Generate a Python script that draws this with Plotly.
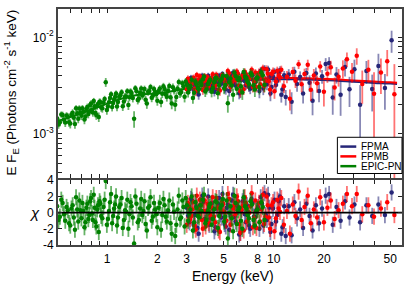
import numpy as np
import plotly.graph_objects as go

# ---------------- data (flux in units of 1e-3 photons cm^-2 s^-1 keV) ----------------
pn_energy = [0.50,0.52,0.54,0.56,0.58,0.60,0.62,0.64,0.66,0.68,0.70,0.72,0.74,0.76,0.78,0.80,0.82,0.84,0.86,0.88,
             0.90,0.92,0.95,0.98,1.01,1.04,1.07,1.10,1.13,1.16,1.20,1.24,1.28,1.32,1.36,1.40,1.45,1.50,1.55,1.60,
             1.65,1.70,1.76,1.82,1.88,1.94,2.00,2.07,2.14,2.21,2.28,2.36,2.44,2.52,2.60,2.69,2.78,2.87,2.96,3.06,
             3.16,3.27,3.38,3.50,3.62,3.75,3.88,4.02,4.16,4.31,4.46,4.62,4.78,4.95,5.12,5.30,5.50,5.70,5.90,6.10,
             6.35,6.60,6.85,7.10,7.40,7.70,8.00,8.40,8.80]
pn_flux = [1.45,1.32,1.57,1.31,1.51,1.28,1.66,1.27,1.64,1.83,
           1.54,1.70,1.52,1.90,1.70,2.07,1.67,1.94,1.57,2.04,
           2.16,1.88,2.12,3.43,1.92,2.36,1.90,2.29,2.62,2.14,
           2.51,1.94,2.44,2.76,2.40,2.65,1.44,2.77,2.33,2.95,
           2.62,2.26,2.73,3.06,2.49,2.72,2.20,2.95,2.60,2.92,
           2.42,3.13,2.07,2.83,2.41,3.45,2.72,3.12,3.49,2.68,
           3.13,2.36,3.49,2.97,3.43,3.69,2.75,3.29,3.64,2.99,
           3.80,2.64,3.57,4.00,3.21,2.08,3.75,2.55,3.97,3.63,
           3.11,4.37,3.79,3.28,4.07,2.88,3.84,4.32,3.22]
pn_err = [0.12,0.12,0.13,0.13,0.13,0.14,0.14,0.14,0.14,0.15,
          0.15,0.15,0.15,0.16,0.16,0.16,0.16,0.17,0.17,0.17,
          0.17,0.18,0.18,0.36,0.19,0.19,0.19,0.20,0.20,0.20,
          0.21,0.21,0.21,0.22,0.22,0.22,0.28,0.23,0.23,0.23,
          0.23,0.23,0.24,0.24,0.24,0.24,0.24,0.25,0.25,0.25,
          0.26,0.26,0.27,0.27,0.28,0.28,0.29,0.29,0.30,0.30,
          0.31,0.31,0.32,0.32,0.33,0.33,0.34,0.34,0.35,0.35,
          0.36,0.36,0.37,0.37,0.38,0.42,0.39,0.40,0.40,0.41,
          0.42,0.43,0.44,0.45,0.46,0.47,0.48,0.50,0.52]
pn_chi = [0.8,-0.5,1.2,-1.0,0.3,-1.6,0.9,-2.1,0.4,1.5,
          -0.7,0.2,-1.2,1.1,-0.3,1.8,-0.9,0.6,-1.7,0.9,
          1.4,-0.4,0.7,3.9,-0.8,1.3,-1.3,0.5,2.0,-0.6,
          1.0,-1.9,0.3,1.6,-0.2,0.8,-3.8,1.1,-0.9,1.7,
          0.2,-1.4,0.6,1.9,-0.5,0.4,-1.8,1.2,-0.3,0.9,
          -1.1,1.5,-2.6,0.1,-1.5,2.1,-0.6,0.7,1.8,-1.0,
          0.4,-2.2,1.3,-0.4,0.9,1.6,-1.3,0.2,1.1,-0.8,
          1.4,-1.9,0.6,1.7,-0.5,-3.2,0.8,-2.3,1.2,0.3,
          -1.0,1.9,0.5,-0.7,1.0,-1.6,0.4,1.3,-0.9]

# second (interleaved) set of EPIC-PN bins
pn_energy_b = [0.51,0.53,0.55,0.57,0.59,0.61,0.63,0.65,0.67,0.69,0.71,0.73,0.75,0.77,0.79,0.81,0.83,0.85,0.87,0.89,
               0.91,0.935,0.965,0.995,1.025,1.055,1.085,1.115,1.145,1.18,1.22,1.26,1.30,1.34,1.38,1.425,1.475,1.525,
               1.575,1.625,1.675,1.73,1.79,1.85,1.91,1.97,2.035,2.105,2.175,2.245,2.32,2.40,2.48,2.56,2.645,2.735,
               2.825,2.915,3.01,3.11,3.215,3.325,3.44,3.56,3.685,3.815,3.95,4.09,4.235,4.385,4.54,4.70,4.865,5.035,
               5.21,5.40,5.60,5.80,6.00,6.225,6.475,6.725,6.975,7.25,7.55,7.85,8.20,8.60]
pn_flux_b = [1.25,1.59,1.40,1.55,1.32,1.59,1.47,1.84,1.44,1.67,
             1.84,1.41,1.81,1.61,1.99,1.78,2.19,1.65,1.95,1.50,
             2.13,1.84,2.30,1.77,2.13,2.57,2.09,2.41,1.92,2.43,
             2.70,2.17,2.42,1.99,2.75,2.35,2.97,2.25,2.67,2.50,
             2.92,2.06,2.79,2.37,2.91,2.57,2.79,2.14,3.12,2.57,
             2.80,2.40,3.05,2.00,2.95,2.64,3.34,2.42,3.23,2.96,
             3.64,2.67,3.27,2.91,3.21,3.92,2.89,3.48,2.74,3.42,
             3.78,3.18,3.69,2.96,3.98,3.43,3.18,4.32,2.93,3.77,
             2.68,3.91,3.45,4.24,3.20,3.74,3.06,4.04]
pn_err_b = [0.12,0.12,0.13,0.13,0.13,0.14,0.14,0.14,0.15,0.15,
            0.15,0.15,0.16,0.16,0.16,0.16,0.17,0.17,0.17,0.17,
            0.18,0.18,0.18,0.19,0.19,0.19,0.20,0.20,0.20,0.21,
            0.21,0.21,0.22,0.22,0.22,0.23,0.23,0.23,0.23,0.23,
            0.24,0.24,0.24,0.24,0.24,0.25,0.25,0.25,0.26,0.26,
            0.26,0.27,0.27,0.28,0.28,0.29,0.29,0.30,0.30,0.31,
            0.31,0.32,0.32,0.33,0.33,0.34,0.34,0.35,0.35,0.36,
            0.36,0.37,0.37,0.38,0.38,0.39,0.39,0.40,0.41,0.42,
            0.43,0.44,0.45,0.46,0.47,0.48,0.50,0.52]
pn_chi_b = [-0.9,1.6,-0.2,0.7,-1.3,0.5,-0.6,1.9,-1.1,0.3,
            1.2,-1.8,0.6,-0.8,1.4,-0.1,2.2,-1.2,0.4,-2.4,
            1.1,-0.7,1.6,-1.5,0.2,2.3,-0.4,1.0,-1.6,0.7,
            1.8,-0.9,0.1,-2.0,1.3,-0.6,2.0,-1.2,0.5,-0.3,
            1.4,-2.2,0.8,-1.0,1.2,-0.2,0.6,-2.1,1.7,-0.5,
            0.3,-1.3,1.0,-2.9,0.4,-0.8,1.5,-1.7,0.9,-0.1,
            2.0,-1.2,0.6,-0.6,0.2,2.2,-0.9,0.7,-1.5,0.4,
            1.3,-0.4,0.9,-1.1,1.5,0.0,-0.7,2.1,-1.4,0.6,
            -2.0,0.8,-0.3,1.4,-0.9,0.2,-1.2,0.7]

fpma_energy = [3.0,3.12,3.24,3.36,3.48,3.6,3.72,3.85,3.98,4.1,
               4.25,4.4,4.55,4.7,4.85,5.0,5.15,5.3,5.5,5.7,
               5.9,6.1,6.3,6.5,6.7,6.9,7.1,7.35,7.6,7.9,
               8.2,8.5,8.8,9.1,9.4,9.7,10.1,10.5,10.9,11.3,
               11.8,12.3,12.8,13.3,13.8,14.4,15.0,15.7,16.4,17.1,
               17.9,18.7,19.5,20.5,21.5,22.6,23.8,25.2,26.8,28.5,
               30.5,33,36,39,42.5,46.5,51]
fpma_flux = [3.43,2.91,3.75,3.23,2.76,3.62,4.00,3.14,3.49,2.95,
             3.78,2.74,3.60,4.00,3.30,3.53,2.90,3.86,3.39,4.31,
             3.17,3.82,2.70,4.08,3.53,3.93,3.06,4.23,3.46,3.79,
             2.78,4.14,4.73,3.27,3.94,3.06,4.39,3.56,4.57,2.90,
             2.41,4.13,2.15,4.41,3.29,3.89,2.62,4.27,3.39,2.21,
             4.22,2.78,3.95,5.29,5.43,2.38,4.12,2.54,4.92,2.90,
             4.67,2.00,4.49,2.91,5.06,2.98,9.31]
fpma_err = [0.30,0.30,0.30,0.30,0.30,0.30,0.30,0.30,0.30,0.30,
            0.30,0.30,0.30,0.30,0.30,0.35,0.35,0.35,0.35,0.35,
            0.35,0.35,0.35,0.35,0.35,0.35,0.35,0.35,0.35,0.35,
            0.44,0.44,0.44,0.44,0.44,0.44,0.44,0.44,0.44,0.44,
            0.44,0.55,0.55,0.55,0.55,0.55,0.55,0.55,0.65,0.65,
            0.65,0.65,0.65,0.80,0.80,0.80,0.80,1.0,1.0,1.0,
            1.2,1.2,1.2,1.2,1.7,1.2,2.4]
fpma_chi = [0.6,-1.2,1.5,-0.3,-1.9,0.9,2.1,-0.8,0.3,-1.5,
            1.2,-2.3,0.5,1.8,-0.6,0.1,-1.7,1.0,-0.4,2.2,
            -1.1,0.7,-2.5,1.4,-0.2,0.9,-1.6,1.7,-0.5,0.4,
            -2.0,1.1,2.4,-0.9,0.6,-1.4,1.6,-0.3,2.0,-1.8,
            -2.9,0.8,-2.8,1.3,-0.7,0.4,-1.9,1.1,-0.4,-2.2,
            0.9,-1.3,0.5,2.1,2.3,-1.5,0.7,-1.0,1.4,-0.6,
            1.0,-1.2,0.9,-0.4,1.0,-0.3,2.5]

fpma_energy_b = [3.06,3.18,3.30,3.42,3.54,3.66,3.78,3.91,4.04,4.17,4.32,4.47,4.62,4.77,4.92,5.07,5.22,5.4,5.6,5.8,
                 6.0,6.2,6.4,6.6,6.8,7.0,7.22,7.47,7.75,8.05,8.35,8.65,8.95,9.25,9.55,9.9,10.3,10.7,11.1,11.55]
fpma_flux_b = [3.14,3.79,2.86,3.56,2.56,3.42,3.76,3.09,4.00,3.20,
               3.58,2.90,3.78,3.41,4.17,3.00,3.71,2.78,4.06,3.37,
               3.89,2.63,3.70,4.23,3.19,3.66,2.93,4.06,3.43,3.90,
               4.50,2.96,3.54,4.64,2.62,3.91,3.21,4.31,2.55,4.04]
fpma_err_b = [0.30,0.30,0.30,0.30,0.30,0.30,0.30,0.30,0.30,0.30,
              0.30,0.30,0.30,0.30,0.30,0.35,0.35,0.35,0.35,0.35,
              0.35,0.35,0.35,0.35,0.35,0.35,0.35,0.35,0.35,0.35,
              0.44,0.44,0.44,0.44,0.44,0.44,0.44,0.44,0.44,0.44]
fpma_chi_b = [-0.4,1.7,-1.5,0.8,-2.6,0.2,1.3,-1.0,2.0,-0.7,
              0.5,-1.8,1.1,-0.2,2.3,-1.4,0.6,-2.1,1.5,-0.5,
              0.9,-2.7,0.3,1.8,-1.2,0.1,-2.0,1.2,-0.6,0.7,
              1.9,-1.6,-0.3,2.2,-2.4,0.5,-1.1,1.4,-2.6,0.8]

fpmb_energy = [3.0,3.1,3.2,3.3,3.4,3.5,3.6,3.7,3.8,3.9,
               4.0,4.15,4.3,4.45,4.6,4.75,4.9,5.05,5.2,5.4,
               5.6,5.8,6.0,6.2,6.4,6.6,6.8,7.0,7.25,7.5,
               7.75,8.0,8.3,8.6,8.9,9.2,9.5,9.9,10.3,10.7,
               11.1,11.5,12.0,12.5,13.0,13.5,14.1,14.7,15.3,16.0,
               16.7,17.4,18.2,19.0,20.0,21.0,22.0,23.2,24.5,26.0,
               27.5,29.5,31.5,34,37,40,44,48,53]
fpmb_flux = [2.90,3.61,3.27,3.81,2.77,3.60,3.95,3.19,3.54,2.96,
             3.85,3.42,4.14,3.17,3.75,2.81,4.04,3.64,3.25,4.24,
             3.42,3.99,4.42,3.17,3.85,2.90,4.16,3.66,4.04,3.07,
             4.32,3.90,3.27,4.76,3.55,4.19,2.89,4.40,3.48,4.03,
             4.63,3.11,3.91,2.32,4.37,3.56,5.27,3.27,4.17,5.19,
             2.87,4.02,3.34,5.00,2.74,4.20,4.91,3.03,3.90,4.76,
             5.94,4.40,6.45,3.29,4.62,2.61,4.32,5.67,2.58]
fpmb_err = [0.30,0.30,0.31,0.31,0.31,0.31,0.31,0.31,0.31,0.31,
            0.32,0.32,0.32,0.32,0.32,0.32,0.32,0.36,0.36,0.36,
            0.36,0.37,0.37,0.37,0.37,0.37,0.37,0.37,0.37,0.38,
            0.38,0.45,0.45,0.45,0.45,0.45,0.45,0.46,0.46,0.46,
            0.46,0.46,0.57,0.57,0.57,0.57,0.57,0.57,0.57,0.68,
            0.68,0.68,0.67,0.67,0.82,0.82,0.81,0.81,0.81,1.02,
            1.01,1.01,1.25,1.24,1.23,1.74,1.73,1.72,2.70]
fpmb_chi = [-1.5,0.8,-0.4,1.3,-2.1,0.5,1.6,-0.9,0.2,-1.7,
            1.1,-0.3,1.9,-1.2,0.6,-2.4,1.4,0.1,-1.0,1.7,
            -0.6,0.9,2.0,-1.4,0.4,-2.2,1.2,-0.2,0.8,-1.8,
            1.5,0.3,-1.1,2.2,-0.5,0.9,-2.0,1.3,-0.7,0.5,
            1.8,-1.5,0.2,-2.6,1.0,-0.4,2.6,-0.9,0.7,2.1,
            -1.3,0.4,-0.6,1.9,-1.2,0.6,1.5,-0.8,0.3,1.1,
            2.3,0.8,2.3,-0.2,0.9,-0.5,0.5,1.3,-0.3]

fpmb_energy_b = [3.05,3.15,3.25,3.35,3.45,3.55,3.65,3.75,3.85,3.95,4.07,4.22,4.37,4.52,4.67,4.82,4.97,5.12,5.3,5.5,
                 5.7,5.9,6.1,6.3,6.5,6.7,6.9,7.12,7.37,7.62,7.87,8.15,8.45,8.75,9.05,9.35,9.7,10.1,10.5,10.9]
fpmb_flux_b = [3.73,3.13,3.52,2.91,4.08,3.35,3.74,2.85,3.95,3.56,
               3.11,3.74,3.38,4.11,2.89,3.67,3.93,3.28,4.47,3.07,
               3.84,3.60,4.20,2.76,4.00,4.41,3.31,3.73,4.63,3.49,
               3.06,4.30,3.95,3.14,4.68,3.51,4.20,2.76,4.52,3.85]
fpmb_err_b = [0.31,0.31,0.31,0.31,0.31,0.31,0.31,0.31,0.31,0.31,
              0.31,0.31,0.31,0.31,0.31,0.31,0.31,0.37,0.37,0.37,
              0.37,0.37,0.37,0.37,0.37,0.37,0.37,0.37,0.37,0.37,
              0.37,0.45,0.45,0.45,0.45,0.45,0.45,0.45,0.45,0.45]
fpmb_chi_b = [1.2,-0.8,0.4,-1.6,2.1,-0.3,0.9,-2.0,1.5,0.2,
              -1.3,0.7,-0.5,1.8,-2.2,0.3,1.1,-0.9,2.3,-1.5,
              0.5,-0.2,1.4,-2.5,0.8,1.9,-1.1,0.0,2.4,-0.7,
              -1.9,1.2,0.4,-1.4,2.0,-0.6,0.9,-2.3,1.6,0.1]

pn_model_energy = [0.5,0.6,0.7,0.8,0.9,1.0,1.2,1.4,1.6,1.8,2.0,2.5,3.0,4.0,5.0,6.0,7.0,8.0,9.0]
pn_model_flux = [1.35,1.50,1.64,1.78,1.92,2.06,2.30,2.47,2.56,2.60,2.63,2.79,2.96,3.22,3.38,3.50,3.58,3.65,3.70]
nu_model_energy = [3,4,5,6,8,10,13,16,20,25,30,40,50,55]
nu_model_flux = [3.35,3.50,3.60,3.68,3.76,3.80,3.80,3.76,3.72,3.65,3.58,3.48,3.42,3.38]
fpma_norm = 0.97

x_tick_vals = [1, 2, 3, 5, 8, 10, 20, 50]
x_tick_labels = ["1", "2", "3", "5", "8", "10", "20", "50"]
x_minor_vals = [0.6, 0.7, 0.8, 0.9, 4, 6, 7, 9, 30, 40]
y_tick_vals = [1e-3, 1e-2]
y_tick_labels = ["10<sup>-3</sup>", "10<sup>-2</sup>"]
y_minor_vals = [4e-4, 5e-4, 6e-4, 7e-4, 8e-4, 9e-4, 2e-3, 3e-3, 4e-3, 5e-3, 6e-3, 7e-3, 8e-3, 9e-3]
chi_tick_vals = [-4, -2, 0, 2, 4]
chi_tick_labels = ["-4", "-2", "0", "2", "4"]

series = [
    ("FPMA", fpma_energy + fpma_energy_b, fpma_flux + fpma_flux_b, fpma_err + fpma_err_b,
     fpma_chi + fpma_chi_b, "#262678", "rgba(38,38,120,0.55)"),
    ("FPMB", fpmb_energy + fpmb_energy_b, fpmb_flux + fpmb_flux_b, fpmb_err + fpmb_err_b,
     fpmb_chi + fpmb_chi_b, "#ff0000", "rgba(255,0,0,0.55)"),
    ("EPIC-PN", pn_energy + pn_energy_b, pn_flux + pn_flux_b, pn_err + pn_err_b,
     pn_chi + pn_chi_b, "#008000", "rgba(0,128,0,0.6)"),
]

fig = go.Figure()
# models (drawn beneath the data points)
fig.add_trace(go.Scatter(x=pn_model_energy, y=np.array(pn_model_flux) * 1e-3, mode="lines",
                         line=dict(color="#008000", width=2, shape="spline"),
                         xaxis="x2", yaxis="y2", showlegend=False))
fig.add_trace(go.Scatter(x=nu_model_energy, y=np.array(nu_model_flux) * 1e-3 * fpma_norm, mode="lines",
                         line=dict(color="#262678", width=2, shape="spline"),
                         xaxis="x2", yaxis="y2", showlegend=False))
fig.add_trace(go.Scatter(x=nu_model_energy, y=np.array(nu_model_flux) * 1e-3, mode="lines",
                         line=dict(color="#ff0000", width=2, shape="spline"),
                         xaxis="x2", yaxis="y2", showlegend=False))

for name, e, f, er, c, col, ecol in series:
    f = np.array(f) * 1e-3
    er = np.array(er) * 1e-3
    er_minus = np.minimum(er, 0.995 * f)
    fig.add_trace(go.Scatter(
        x=e, y=f, mode="markers", xaxis="x2", yaxis="y2", showlegend=False, name=name,
        marker=dict(color=col, size=4.5),
        error_y=dict(type="data", array=er, arrayminus=er_minus, symmetric=False,
                     color=ecol, thickness=1.8, width=0)))
    fig.add_trace(go.Scatter(
        x=e, y=c, mode="markers", xaxis="x", yaxis="y", showlegend=False, name=name,
        marker=dict(color=col, size=4.5),
        error_y=dict(type="constant", value=1, color=ecol, thickness=1.8, width=0)))

# zero line
fig.add_trace(go.Scatter(x=[0.4, 70], y=[0, 0], mode="lines", line=dict(color="black", width=1.6),
                         xaxis="x", yaxis="y", showlegend=False))

W, H = 407, 285
ml, mr, mt, mb = 58, 3, 4, 40
pw, ph = W - ml - mr, H - mt - mb

def px(xp):
    return (xp - ml) / pw

def py(yp):
    return (H - mb - yp) / ph

font = "Liberation Sans, Arial, sans-serif"
axis_common = dict(showline=True, linecolor="#444", linewidth=2, mirror="ticks",
                   ticks="inside", ticklen=4, tickwidth=1, tickcolor="#222",
                   showgrid=False, zeroline=False,
                   tickfont=dict(family=font, size=12, color="black"))
minor_common = dict(ticks="inside", ticklen=4, tickwidth=1, tickcolor="#222", showgrid=False)

xrange = [-0.2955, 1.770]
fig.update_layout(
    width=W, height=H,
    margin=dict(l=ml, r=mr, t=mt, b=mb),
    paper_bgcolor="white", plot_bgcolor="white",
    showlegend=False,
    xaxis=dict(type="log", range=xrange, anchor="y", domain=[0, 1],
               tickvals=x_tick_vals, ticktext=x_tick_labels, ticklabelstandoff=2,
               minor=dict(tickvals=x_minor_vals, **minor_common), **axis_common),
    xaxis2=dict(type="log", range=xrange, anchor="y2", domain=[0, 1], matches="x",
                tickvals=x_tick_vals, showticklabels=False,
                minor=dict(tickvals=x_minor_vals, **minor_common), **axis_common),
    yaxis=dict(range=[-4, 4.05], domain=[0, py(178.5)], anchor="x",
               tickvals=chi_tick_vals, ticktext=chi_tick_labels, **axis_common),
    yaxis2=dict(type="log", range=[-3.455, -1.707], domain=[py(176.5), 1], anchor="x2",
                tickvals=y_tick_vals, ticktext=y_tick_labels,
                minor=dict(tickvals=y_minor_vals, **minor_common), **axis_common),
)

annotations = [
    dict(x=px(11), y=py(89), xref="paper", yref="paper", textangle=-90, showarrow=False,
         xanchor="center", yanchor="middle",
         text="E F<sub>E</sub> (Photons cm<sup>-2</sup> s<sup>-1</sup> keV)",
         font=dict(family=font, size=13.5, color="black")),
    dict(x=px(34), y=py(212), xref="paper", yref="paper", showarrow=False, text="<i>χ</i>",
         xanchor="center", yanchor="middle",
         font=dict(family=font, size=15, color="black")),
    dict(x=px(234), y=py(277), xref="paper", yref="paper", showarrow=False, text="Energy (keV)",
         xanchor="center", yanchor="middle",
         font=dict(family=font, size=14, color="black")),
]
shapes = [dict(type="rect", xref="paper", yref="paper", x0=px(339), x1=px(404), y0=py(172), y1=py(135),
               line=dict(color="black", width=1), fillcolor="white", layer="above")]
legend_rows = [("FPMA", "#262678", 144.5), ("FPMB", "#ff0000", 154.5), ("EPIC-PN", "#008000", 164.5)]
for txt, col, yy in legend_rows:
    shapes.append(dict(type="line", xref="paper", yref="paper", x0=px(342), x1=px(358), y0=py(yy), y1=py(yy),
                       line=dict(color=col, width=2.5), layer="above"))
    annotations.append(dict(x=px(361), y=py(yy), xref="paper", yref="paper", showarrow=False, text=txt,
                            xanchor="left", yanchor="middle", font=dict(family=font, size=10, color="black")))
fig.update_layout(annotations=annotations, shapes=shapes)

fig.write_html("out.html", config={"displayModeBar": False},
               post_script="document.body.style.margin='0';document.body.style.padding='0';")
